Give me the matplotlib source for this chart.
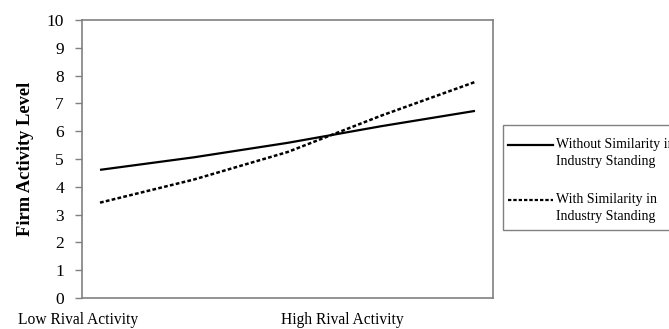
import matplotlib
matplotlib.use("Agg")
import matplotlib.pyplot as plt
from matplotlib.lines import Line2D
from matplotlib.patches import Rectangle

# Data (x: 0 = low rival activity, 1 = high rival activity)
x_pos = [0.0, 0.25, 0.5, 0.75, 1.0]
without_similarity = [4.61, 5.06, 5.58, 6.18, 6.73]
with_similarity = [3.43, 4.26, 5.25, 6.56, 7.77]
y_ticks = [0, 1, 2, 3, 4, 5, 6, 7, 8, 9, 10]
x_labels = ["Low Rival Activity", "High Rival Activity"]
series_names = ["Without Similarity in\nIndustry Standing",
                "With Similarity in\nIndustry Standing"]
y_title = "Firm Activity Level"

plt.rcParams['font.family'] = ['Liberation Serif', 'DejaVu Serif']

W, H = 669, 329
fig = plt.figure(figsize=(W / 100, H / 100), dpi=100)
ax = fig.add_axes([82 / W, (H - 298) / H, (493 - 82) / W, (298 - 20) / H])

ax.plot(x_pos, without_similarity, color='black', lw=1.6, solid_capstyle='butt')
ax.plot(x_pos, with_similarity, color='black', lw=1.8, linestyle=(0, (1.5, 0.9)))

ax.set_xlim(-0.048, 1.048)
ax.set_ylim(0, 10)
ax.set_yticks(y_ticks)
ax.set_yticklabels([str(t) for t in y_ticks], fontsize=12.5)
ax.set_xticks([])
ax.tick_params(axis='y', direction='out', length=5, width=1, color='#808080', pad=8)
for s in ax.spines.values():
    s.set_color('#808080')
    s.set_linewidth(1.2)

ax.set_ylabel(y_title, fontsize=13.3, fontweight='bold', labelpad=9)

# category labels under the axis
fig.text(78 / W, 1 - 320 / H, x_labels[0], ha='center', va='center', fontsize=11.2)
fig.text(342 / W, 1 - 320 / H, x_labels[1], ha='center', va='center', fontsize=11.2)

# legend box (extends past right edge, as in the original)
fig.add_artist(Rectangle((503 / W, 1 - 230 / H), 200 / W, 105 / H,
                         transform=fig.transFigure, facecolor='white',
                         edgecolor='#808080', lw=1.0))
legend_y = [145, 200]
styles = [dict(lw=1.6, linestyle='-'), dict(lw=1.6, linestyle=(0, (1.5, 0.9)))]
for yy, name, st in zip(legend_y, series_names, styles):
    fig.add_artist(Line2D([508 / W, 553 / W], [1 - yy / H, 1 - yy / H],
                          transform=fig.transFigure, color='black', **st))
    fig.text(556 / W, 1 - (yy - 7) / H, name, ha='left', va='top',
             fontsize=10, linespacing=1.4)

fig.savefig('out.png', dpi=100)
